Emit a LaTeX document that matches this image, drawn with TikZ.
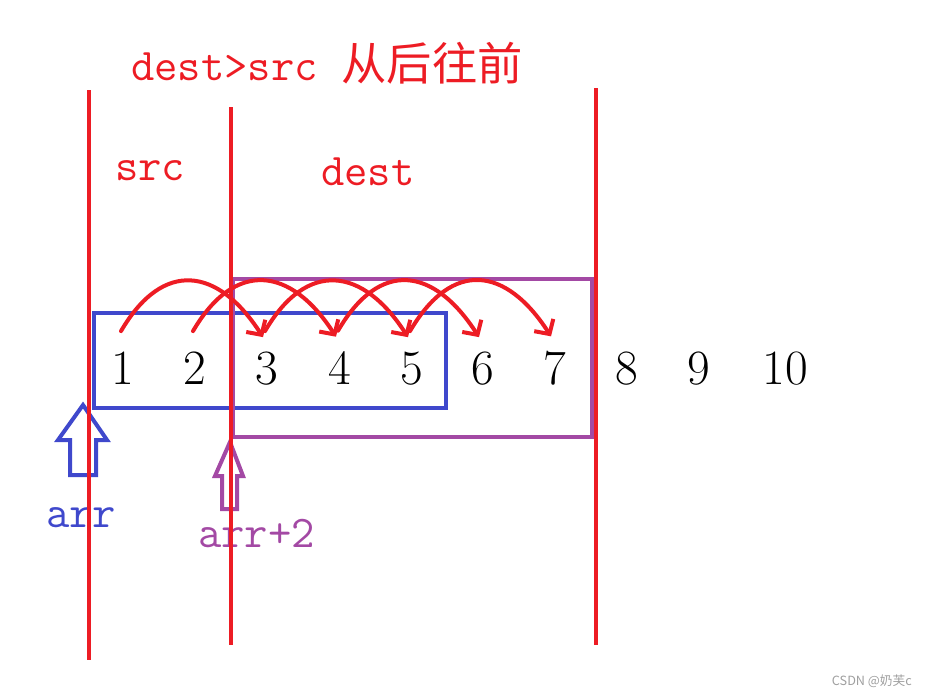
\documentclass[tikz,border=0pt]{standalone}
\usepackage{fontspec}
\newfontfamily\cjk{Noto Sans CJK SC}
\usetikzlibrary{arrows.meta,calc,positioning}
\definecolor{paintred}{RGB}{237,28,36}
\definecolor{paintblue}{RGB}{63,72,204}
\definecolor{paintpurple}{RGB}{163,73,164}
\tikzstyle{num} = [inner sep=0pt, anchor=base, font=\fontsize{37}{40}\selectfont]
\tikzstyle{lbl} = [inner sep=0pt, anchor=base west, font=\fontsize{34}{36}\selectfont\ttfamily]
\tikzstyle{wall} = [paintred, line width=3pt]
\tikzstyle{hop} = [paintred, line width=3pt, line cap=round,
    -{Straight Barb[length=8pt,width=17pt]}]
\tikzstyle{ptr} = [line width=3pt, fill=white, line join=miter]

\begin{document}
\begin{tikzpicture}[x=0.75pt,y=-0.75pt]
  \useasboundingbox (0,0) rectangle (926,696);
  % Place boxes
  \draw[paintblue, line width=3.5pt] (94,313) rectangle (446,408);
  \draw[paintpurple, line width=3pt] (233,279) rectangle (592,437);
  % Place numbers
  \foreach \i/\x in {1/123,2/195,3/267,4/340,5/412,6/483,7/555,8/627,9/699,10/785}
    \node[num] (n\i) at (\x,384) {\i};
  % Place pointers
  \draw[ptr, draw=paintblue] (83,405) -- (107,440) -- (96,440) -- (96,475)
    -- (70,475) -- (70,440) -- (58,440) -- cycle;
  \draw[ptr, draw=paintpurple] (230,442) -- (243,476) -- (237,476) -- (237,509)
    -- (222,509) -- (222,476) -- (215,476) -- cycle;
  \node[lbl, text=paintblue] (arr) at (46,527) {arr};
  \node[lbl, text=paintpurple] (arrtwo) at (198,547) {arr+2};
  % Place titles
  \node[lbl, text=paintred] (title) at (131,80) {dest>src {\cjk 从后往前}};
  \node[lbl, text=paintred] (src) at (115,180) {src};
  \node[lbl, text=paintred] (dest) at (321,185) {dest};
  % Draw hops
  \foreach \a/\b in {1/3,2/4,3/5,4/6,5/7}
    \draw[hop] ($(n\a.north)+(-2,-20)$) .. controls +(42,-72) and +(-45,-70)
      .. ($(n\b.north)+(-4,-14)$);
  % Draw walls
  \draw[wall] (89,90) -- (89,660);
  \draw[wall] (231,107) -- (231,645);
  \draw[wall] (596,88) -- (596,645);
  \node[inner sep=0pt, anchor=east, text=gray!75, font=\cjk\fontsize{9.5}{10}\selectfont]
    (mark) at (912,681) {CSDN @奶芙c};
\end{tikzpicture}
\end{document}
